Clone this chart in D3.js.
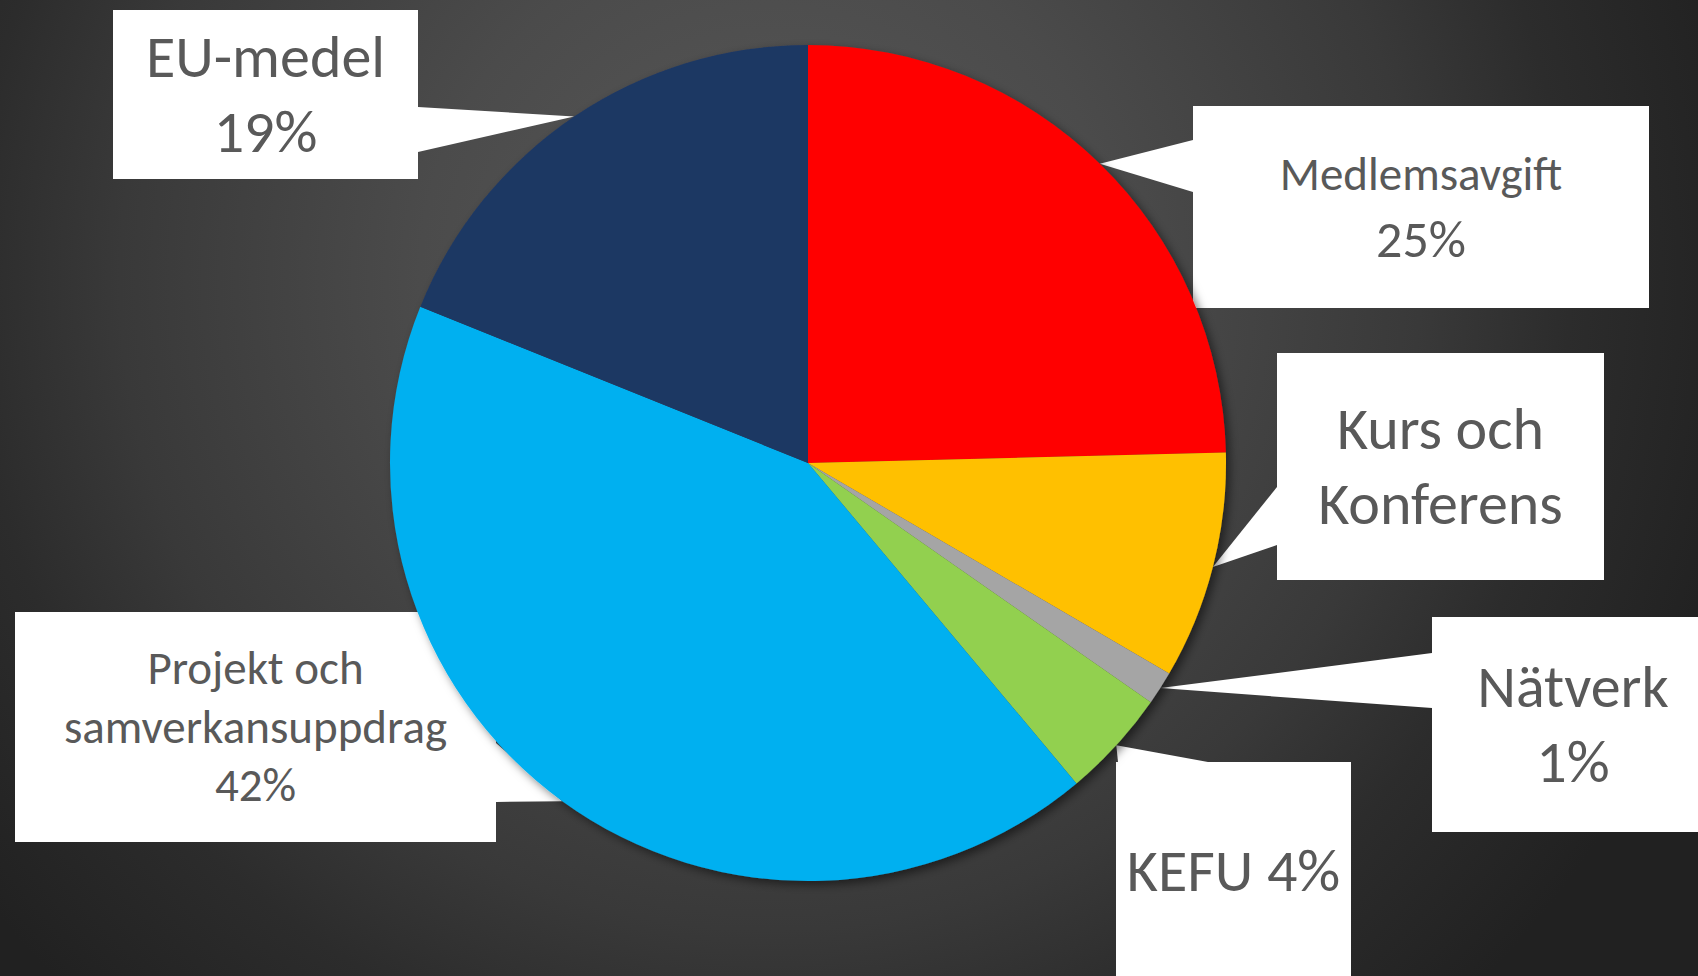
<!DOCTYPE html>
<html lang="sv">
<head>
<meta charset="UTF-8">
<title>Intäkter</title>
<style>
    html, body { margin: 0; padding: 0; background: #2a2a2a; }
    svg { display: block; }
    .callout-text {
        font-family: Carlito, Calibri, Lato, sans-serif;
        fill: #595959;
        text-anchor: middle;
    }
</style>
</head>
<body>
<svg width="1698" height="976"></svg>
<script src="https://cdn.jsdelivr.net/npm/d3@7"></script>
<script>
    // slices, clockwise from 12 o'clock
    const categories = ["Medlemsavgift", "Kurs och Konferens", "Nätverk", "KEFU", "Projekt och samverkansuppdrag", "EU-medel"];
    const shares = [24.6, 8.8, 1.3, 4.2, 42.2, 18.9];
    const sliceColors = ["#ff0000", "#ffc000", "#a5a5a5", "#92d050", "#00b0f0", "#1f3864"];
    const labelLines = [
        ["Medlemsavgift", "25%"],
        ["Kurs och", "Konferens"],
        ["Nätverk", "1%"],
        ["KEFU 4%"],
        ["Projekt och", "samverkansuppdrag", "42%"],
        ["EU-medel", "19%"]
    ];

    // callout boxes (font sizes per line, pointer base on the box edge)
    const callouts = [
        {box: [1193, 106, 1649, 308], sizes: [47, 52], base: [[1193, 140], [1193, 192]]},
        {box: [1277, 353, 1604, 580], sizes: [60, 60], base: [[1277, 487], [1277, 545]]},
        {box: [1432, 617, 1714, 832], sizes: [60, 60], base: [[1432, 653], [1432, 708]]},
        {box: [1116, 762, 1351, 980], sizes: [60], base: [[1118, 762], [1208, 762]]},
        {box: [15, 612, 496, 842], sizes: [47, 47, 47], base: [[496, 743], [496, 802]]},
        {box: [113, 10, 418, 179], sizes: [60, 60], base: [[418, 107], [418, 152]]}
    ];

    const W = 1698, H = 976;
    const cx = 808, cy = 463, radius = 418;
    const fontScale = 1.0;

    const svg = d3.select("svg");
    const defs = svg.append("defs");

    const bg = defs.append("radialGradient")
        .attr("id", "bg")
        .attr("gradientUnits", "userSpaceOnUse")
        .attr("cx", 770).attr("cy", 280).attr("r", 1000);
    [[0, "#595959"], [0.35, "#4b4b4b"], [0.65, "#393939"], [0.8, "#2c2c2c"], [1, "#212121"]]
        .forEach(([o, c]) => bg.append("stop").attr("offset", o).attr("stop-color", c));

    defs.append("filter")
        .attr("id", "shadow")
        .attr("x", "-10%").attr("y", "-10%").attr("width", "120%").attr("height", "120%")
        .append("feDropShadow")
        .attr("dx", 4).attr("dy", 4).attr("stdDeviation", 5)
        .attr("flood-color", "#000").attr("flood-opacity", 0.5);

    svg.append("rect").attr("width", W).attr("height", H).attr("fill", "url(#bg)");

    const data = categories.map((c, i) => ({name: c, value: shares[i], color: sliceColors[i], lines: labelLines[i], co: callouts[i]}));

    const pie = d3.pie().value(d => d.value).sort(null);
    const arcs = pie(data);
    const arc = d3.arc().innerRadius(0).outerRadius(radius);

    // callouts first, the pie covers the pointer tips
    const co = svg.append("g").selectAll("g").data(arcs).join("g");

    co.append("path")
        .attr("fill", "#fff")
        .attr("d", d => {
            const mid = (d.startAngle + d.endAngle) / 2;
            const tip = [cx + radius * Math.sin(mid), cy - radius * Math.cos(mid)];
            const b = d.data.co.base;
            return d3.line()([b[0], tip, b[1]]) + "Z";
        });

    co.append("rect")
        .attr("fill", "#fff")
        .attr("x", d => d.data.co.box[0])
        .attr("y", d => d.data.co.box[1])
        .attr("width", d => d.data.co.box[2] - d.data.co.box[0])
        .attr("height", d => d.data.co.box[3] - d.data.co.box[1]);

    co.each(function(d) {
        const b = d.data.co.box;
        const mx = (b[0] + b[2]) / 2, my = (b[1] + b[3]) / 2;
        const sizes = d.data.co.sizes;
        const lh = 1.25 * d3.max(sizes);
        const n = d.data.lines.length;
        d3.select(this).selectAll("text")
            .data(d.data.lines)
            .join("text")
            .attr("class", "callout-text")
            .attr("x", mx)
            .attr("y", (t, i) => my + (i - (n - 1) / 2) * lh + 0.33 * sizes[i])
            .style("font-size", (t, i) => (sizes[i] * fontScale) + "px")
            .text(t => t);
    });

    svg.append("g")
        .attr("transform", `translate(${cx},${cy})`)
        .attr("filter", "url(#shadow)")
        .selectAll("path")
        .data(arcs)
        .join("path")
        .attr("d", arc)
        .attr("fill", d => d.data.color);
</script>
</body>
</html>
